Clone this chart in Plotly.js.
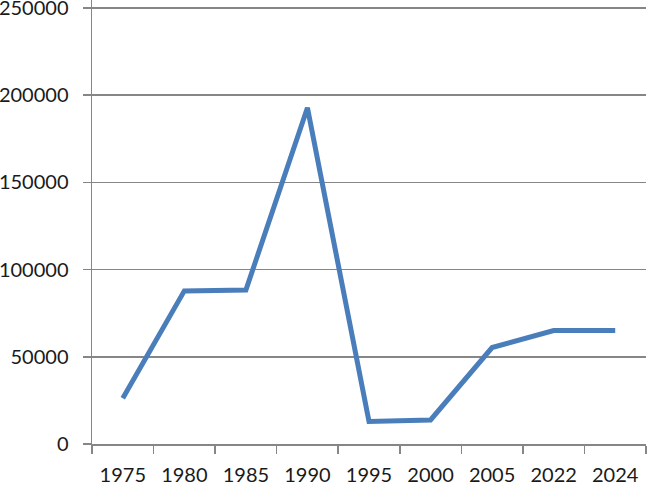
<!DOCTYPE html>
<html>
<head>
<meta charset="utf-8">
<script src="https://cdn.plot.ly/plotly-3.0.1.min.js"></script>
<style>
  html, body { margin: 0; padding: 0; background: #fff; }
  #graph { width: 648px; height: 482px; }
</style>
</head>
<body>
<div id="graph"></div>
<script>
// categories and values
var years = ['1975', '1980', '1985', '1990', '1995', '2000', '2005', '2022', '2024'];
var values = [26300, 87800, 88300, 192800, 12900, 13800, 55300, 65100, 65100];
var yTicks = [0, 50000, 100000, 150000, 200000, 250000];

var trace = {
    x: years,
    y: values,
    type: 'scatter',
    mode: 'lines',
    line: { color: '#4a7ebb', width: 5 },
    hoverinfo: 'x+y'
};

var layout = {
    width: 648,
    height: 482,
    margin: { l: 92, r: 2, t: 0, b: 38 },
    paper_bgcolor: '#ffffff',
    plot_bgcolor: '#ffffff',
    showlegend: false,
    font: { family: 'Lato, "Open Sans", sans-serif', size: 20, color: '#1a1a1a' },
    xaxis: {
        type: 'category',
        range: [-0.5, 8.5],
        tickson: 'boundaries',
        ticks: 'outside',
        ticklen: 8,
        tickcolor: '#868686',
        tickwidth: 1.5,
        showline: true,
        linecolor: '#868686',
        linewidth: 1.5,
        showgrid: false,
        ticklabelstandoff: 12,
        ticklabeloverflow: 'allow',
        fixedrange: true
    },
    yaxis: {
        range: [0, 254600],
        tickvals: yTicks,
        ticktext: yTicks.map(String),
        ticks: 'outside',
        ticklen: 8,
        tickcolor: '#868686',
        tickwidth: 1.5,
        showline: true,
        linecolor: '#868686',
        linewidth: 1.5,
        showgrid: true,
        gridcolor: '#868686',
        gridwidth: 1.5,
        zeroline: false,
        ticklabelstandoff: 10,
        ticklabeloverflow: 'allow',
        fixedrange: true
    }
};

Plotly.newPlot('graph', [trace], layout, { displayModeBar: false, staticPlot: true });
</script>
</body>
</html>
